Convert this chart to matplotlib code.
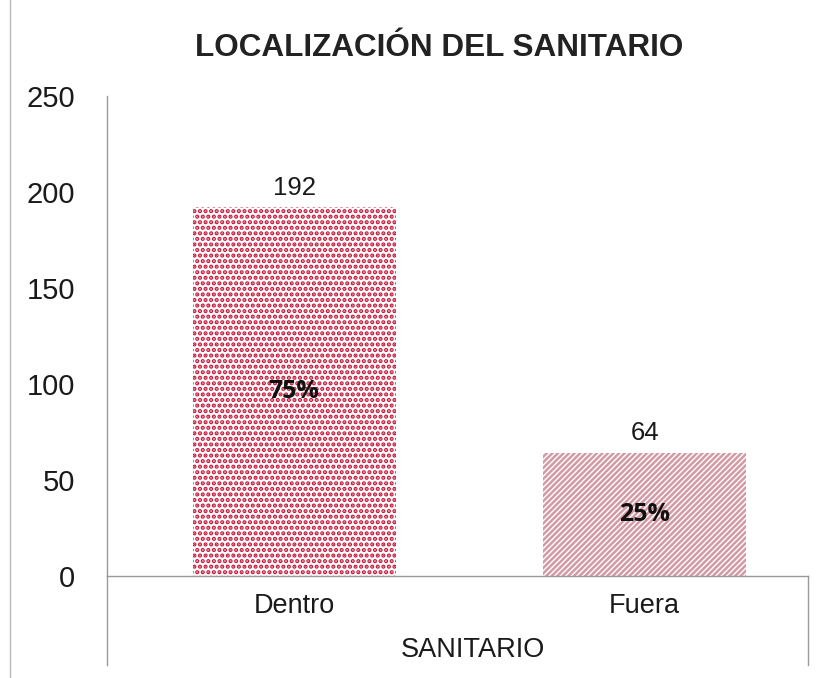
import matplotlib
matplotlib.use("Agg")
import matplotlib.pyplot as plt
from matplotlib.lines import Line2D

categories = ["Dentro", "Fuera"]
values = [192, 64]
percents = ["75%", "25%"]
title = "LOCALIZACIÓN DEL SANITARIO"
xlabel = "SANITARIO"
yticks = [0, 50, 100, 150, 200, 250]

plt.rcParams['font.family'] = ['Liberation Sans', 'DejaVu Sans']

fig = plt.figure(figsize=(8.34, 6.78), dpi=100)
ax = fig.add_axes([107/834, 102/678, 701/834, 480/678])

hatches = ['...', '//////']
colors = ['#c8183a', '#d39aa6']
hatch_lw = [2.1, 1.8]
x = list(range(len(categories)))
for i in x:
    with plt.rc_context({'hatch.linewidth': hatch_lw[i]}):
        ax.bar(i, values[i], width=0.58, color='white', edgecolor=colors[i],
               hatch=hatches[i], linewidth=0)
    ax.text(i, values[i] + 4, str(values[i]), ha='center', va='bottom', fontsize=18.5,
            color='#1a1a1a')
    ax.text(i, values[i] / 2, percents[i], ha='center', va='center', fontsize=18,
            fontweight='bold', family=['Open Sans', 'DejaVu Sans'], color='#111111')

ax.set_xlim(-0.534, 1.466)
ax.set_ylim(0, 250)
ax.set_yticks(yticks)
ax.set_yticklabels([str(t) for t in yticks], fontsize=21, color='#1a1a1a')
ax.set_xticks(x)
ax.set_xticklabels(categories, fontsize=19.5, color='#1a1a1a')
ax.tick_params(axis='both', length=0)
ax.tick_params(axis='y', pad=23)
ax.tick_params(axis='x', pad=12)
ax.set_xlabel(xlabel, fontsize=19.5, color='#1a1a1a')
ax.xaxis.set_label_coords(0.522, -(650 - 576) / 480)
ax.xaxis.label.set_va('center')

for s in ['top', 'right']:
    ax.spines[s].set_visible(False)
for s in ['left', 'bottom']:
    ax.spines[s].set_color('#999999')
    ax.spines[s].set_linewidth(1.0)

ext = -(665 - 576) / 480
for xx in (0, 1):
    ax.add_line(Line2D([xx, xx], [0, ext], transform=ax.transAxes, color='#999999',
                       linewidth=1.0, clip_on=False))

fig.add_artist(Line2D([10/834, 10/834], [0, 1], transform=fig.transFigure,
                      color='#bbbbbb', linewidth=1.0))

fig.text(439/834, 1 - 48/678, title, ha='center', va='center', fontsize=22.7,
         fontweight='bold', color='#222222')

fig.savefig('out.png', dpi=100)
